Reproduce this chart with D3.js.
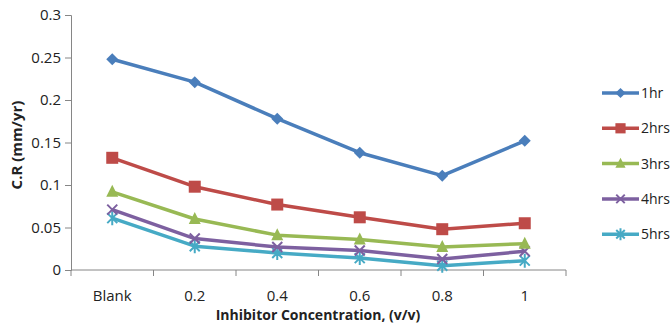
<!DOCTYPE html>
<html>
<head>
<meta charset="utf-8">
<script src="https://cdn.jsdelivr.net/npm/d3@7.9.0/dist/d3.min.js"></script>
<style>
  body { margin: 0; background: #fff; }
  svg text { font-family: "Open Sans", "Liberation Sans", sans-serif; fill: #222; }
</style>
</head>
<body>
<svg id="chart" width="672" height="327"></svg>
<script>
const categories = ['Blank', '0.2', '0.4', '0.6', '0.8', '1'];
const seriesNames = ['1hr', '2hrs', '3hrs', '4hrs', '5hrs'];
const hr1 = [0.248, 0.221, 0.178, 0.138, 0.111, 0.152];
const hr2 = [0.132, 0.098, 0.077, 0.062, 0.048, 0.055];
const hr3 = [0.092, 0.060, 0.041, 0.036, 0.027, 0.031];
const hr4 = [0.071, 0.037, 0.027, 0.023, 0.013, 0.022];
const hr5 = [0.061, 0.028, 0.020, 0.014, 0.005, 0.011];
const yTicks = [0, 0.05, 0.1, 0.15, 0.2, 0.25, 0.3];

const seriesValues = [hr1, hr2, hr3, hr4, hr5];
const colors = ['#4a7ebb', '#be4b48', '#98b954', '#7d60a0', '#46aac5'];
const symbols = ['diamond', 'square', 'triangle', 'x', 'star'];

const svg = d3.select('#chart');
const plotLeft = 71, plotRight = 566, plotTop = 15, plotBottom = 270;

const x = d3.scaleBand().domain(categories).range([plotLeft, plotRight]);
const y = d3.scaleLinear().domain([0, 0.3]).range([plotBottom, plotTop]);
const axisColor = '#868686';

// y axis
const yAxis = svg.append('g')
  .attr('transform', `translate(${plotLeft},0)`)
  .call(d3.axisLeft(y).tickValues(yTicks).tickSize(6).tickPadding(4)
    .tickFormat((d) => String(+d.toFixed(2))));
yAxis.select('.domain').attr('stroke', axisColor);
yAxis.selectAll('line').attr('stroke', axisColor);
yAxis.selectAll('text').style('font-size', '15px').attr('fill', '#222');

// x axis
const xAxis = svg.append('g')
  .attr('transform', `translate(0,${plotBottom})`)
  .call(d3.axisBottom(x).tickSize(0).tickPadding(20));
xAxis.select('.domain').attr('stroke', axisColor).attr('d', `M${plotLeft},0H${plotRight}`);
xAxis.selectAll('text').style('font-size', '15px').attr('fill', '#222');
const xTickPos = categories.map((c) => x(c)).concat([plotRight]);
xAxis.selectAll('.xtick')
  .data(xTickPos)
  .join('line')
  .attr('class', 'xtick')
  .attr('x1', (d) => d).attr('x2', (d) => d)
  .attr('y1', 0).attr('y2', 6)
  .attr('stroke', axisColor);

// axis titles
svg.append('text')
  .attr('x', 318).attr('y', 320)
  .attr('text-anchor', 'middle')
  .style('font-size', '14px').style('font-weight', 'bold')
  .text('Inhibitor Concentration, (v/v)');
svg.append('text')
  .attr('transform', 'translate(22,145) rotate(-90)')
  .attr('text-anchor', 'middle')
  .style('font-size', '15px').style('font-weight', 'bold')
  .text('C.R (mm/yr)');

const cx = (i) => x(categories[i]) + x.bandwidth() / 2;
const line = d3.line().x((d, i) => cx(i)).y((d) => y(d));

function drawMarker(g, type, color, px, py, s = 1) {
  if (type === 'diamond') {
    g.append('path').attr('d', `M${px},${py - 6 * s}L${px + 6 * s},${py}L${px},${py + 6 * s}L${px - 6 * s},${py}Z`)
      .attr('fill', color);
  } else if (type === 'square') {
    g.append('rect').attr('x', px - 6 * s).attr('y', py - 6 * s)
      .attr('width', 12 * s).attr('height', 12 * s).attr('fill', color);
  } else if (type === 'triangle') {
    g.append('path').attr('d', `M${px},${py - 7 * s}L${px + 6 * s},${py + 5 * s}L${px - 6 * s},${py + 5 * s}Z`)
      .attr('fill', color);
  } else if (type === 'x') {
    g.append('path').attr('d', `M${px - 5 * s},${py - 5 * s}L${px + 5 * s},${py + 5 * s}M${px + 5 * s},${py - 5 * s}L${px - 5 * s},${py + 5 * s}`)
      .attr('stroke', color).attr('stroke-width', 2);
  } else {
    g.append('path').attr('d', `M${px - 5 * s},${py - 5 * s}L${px + 5 * s},${py + 5 * s}M${px + 5 * s},${py - 5 * s}L${px - 5 * s},${py + 5 * s}M${px},${py - 7 * s}L${px},${py + 7 * s}`)
      .attr('stroke', color).attr('stroke-width', 2);
  }
}

// series, drawn back to front so 1hr sits on top
for (let k = seriesValues.length - 1; k >= 0; k--) {
  const g = svg.append('g');
  g.append('path')
    .datum(seriesValues[k])
    .attr('d', line)
    .attr('fill', 'none')
    .attr('stroke', colors[k])
    .attr('stroke-width', 3.5)
    .attr('stroke-linejoin', 'round');
  seriesValues[k].forEach((v, i) => drawMarker(g, symbols[k], colors[k], cx(i), y(v)));
}

// legend
const legend = svg.append('g');
seriesNames.forEach((name, k) => {
  const ly = 93 + k * 35.3;
  const g = legend.append('g');
  g.append('line').attr('x1', 602).attr('x2', 639).attr('y1', ly).attr('y2', ly)
    .attr('stroke', colors[k]).attr('stroke-width', 3.5);
  drawMarker(g, symbols[k], colors[k], 620.5, ly, 0.85);
  g.append('text').attr('x', 641).attr('y', ly + 5)
    .style('font-size', '14px').text(name);
});
</script>
</body>
</html>
